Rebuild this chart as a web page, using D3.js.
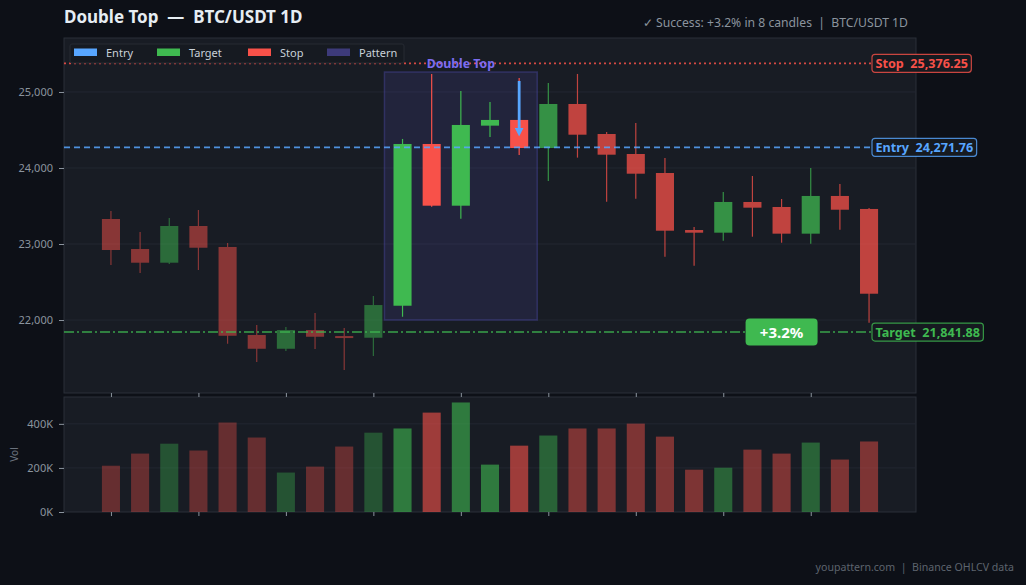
<!DOCTYPE html>
<html><head><meta charset="utf-8">
<script src="https://cdn.jsdelivr.net/npm/d3@7"></script>
<style>
html,body{margin:0;padding:0;background:#0d1017;}
svg{display:block;font-family:"Noto Sans","Open Sans",sans-serif;}
</style></head>
<body><svg id="c" width="1026" height="585"></svg>
<script>
// ---- data ----
const candleIdx = d3.range(27);
const opens  = [23329,22934,22754,23237,22961,21803,21622,21868,21789,21767,22188,24316,23504,24557,24632,24263,24842,24447,24184,23934,23184,23149,23553,23487,23136,23632,23461];
const highs  = [23434,23158,23342,23447,23013,21934,21908,22092,21895,22316,24382,25237,25013,24868,25184,25118,25237,24474,24592,24132,23224,23684,23895,23592,24000,23789,23474];
const lows   = [22724,22618,22737,22658,21688,21447,21592,21618,21342,21526,22043,23491,23333,24408,24171,23829,24136,23557,23596,22833,22714,23043,23096,23017,23004,23188,21964];
const closes = [22921,22754,23237,22951,21793,21622,21868,21780,21767,22197,24316,23504,24566,24632,24263,24842,24438,24175,23925,23175,23149,23553,23478,23136,23632,23451,22346];
const volumes= [210000,265000,310000,279000,406000,338000,179000,206000,297000,360000,379000,451000,497000,215000,301000,347000,379000,379000,401000,342000,192000,201000,283000,265000,315000,238000,320000];
const priceTicks = [22000,23000,24000,25000];
const volTicks = [0,200000,400000];
const xTickIdx = [0,3,6,9,12,15,18,21,24];
const patternStart = 10, patternEnd = 14, arrowIdx = 14;
const arrowFrom = 25145, arrowTo = 24460;
const badgeIdx = 23;
const levels = [
  {name:"Stop",   value:25376.25, color:"#f85149", dash:"2,3"},
  {name:"Entry",  value:24271.76, color:"#58a6ff", dash:"6,4"},
  {name:"Target", value:21841.88, color:"#3fb950", dash:"10,3,2,3"}
];
const legendItems = [
  {name:"Entry", color:"#58a6ff"},
  {name:"Target", color:"#3fb950"},
  {name:"Stop", color:"#f85149"},
  {name:"Pattern", color:"#3d3a7a"}
];

// ---- layout ----
const svg = d3.select("#c");
const W = 1026, H = 585;
const L = 64, R = 916, pT = 38, pB = 393, vT = 397, vB = 512;
const UP = "#3fb950", DN = "#f85149";

svg.append("rect").attr("width",W).attr("height",H).attr("fill","#0d1017");

const x = d3.scaleLinear().domain([-1.61, 27.61]).range([L, R]);
const step = x(1) - x(0);
const cw = step * 0.62;
const y = d3.scaleLinear().domain([21040, 25710]).range([pB, pT]);
const yv = d3.scaleLinear().domain([0, d3.max(volumes) * 1.05]).range([vB, vT]);

// panels
svg.append("rect").attr("x",L).attr("y",pT).attr("width",R-L).attr("height",pB-pT)
  .attr("fill","#181c24").attr("stroke","#2a2f38").attr("stroke-width",1);
svg.append("rect").attr("x",L).attr("y",vT).attr("width",R-L).attr("height",vB-vT)
  .attr("fill","#181c24").attr("stroke","#2a2f38").attr("stroke-width",1);

// grids
svg.append("g").selectAll("line").data(priceTicks).join("line")
  .attr("x1",L).attr("x2",R).attr("y1",d=>y(d)).attr("y2",d=>y(d))
  .attr("stroke","#222731").attr("stroke-width",1);
svg.append("g").selectAll("line").data(volTicks.filter(d=>d>0)).join("line")
  .attr("x1",L).attr("x2",R).attr("y1",d=>yv(d)).attr("y2",d=>yv(d))
  .attr("stroke","#222731").attr("stroke-width",1);

// axes
function styleAxis(g){
  g.select(".domain").remove();
  g.selectAll(".tick line").attr("stroke","#8b949e");
  g.selectAll(".tick text").attr("fill","#8b949e").style("font-size","11px")
   .style("font-family","'Noto Sans','Open Sans',sans-serif");
}
svg.append("g").attr("transform",`translate(${L},0)`)
  .call(d3.axisLeft(y).tickValues(priceTicks).tickFormat(d3.format(",")).tickSize(5).tickPadding(6))
  .call(styleAxis);
svg.append("g").attr("transform",`translate(${L},0)`)
  .call(d3.axisLeft(yv).tickValues(volTicks).tickFormat(d=>(d/1000)+"K").tickSize(5).tickPadding(6))
  .call(styleAxis);
svg.append("g").attr("transform",`translate(0,${pB})`)
  .call(d3.axisBottom(x).tickValues(xTickIdx).tickFormat("").tickSize(4))
  .call(styleAxis);
svg.append("g").attr("transform",`translate(0,${vB})`)
  .call(d3.axisBottom(x).tickValues(xTickIdx).tickFormat("").tickSize(4))
  .call(styleAxis);
svg.append("text").attr("transform",`translate(18,${(vT+vB)/2}) rotate(-90)`)
  .attr("text-anchor","middle").attr("fill","#6e7681").style("font-size","10px").text("Vol");

// pattern rect
svg.append("rect")
  .attr("x", x(patternStart) - cw).attr("width", x(patternEnd) - x(patternStart) + 2*cw)
  .attr("y", y(25263)).attr("height", y(22000) - y(25263))
  .attr("fill","rgba(74,70,160,0.2)").attr("stroke","rgba(74,70,160,0.45)").attr("stroke-width",1.5);

function phaseOp(i){ return i < patternStart ? 0.5 : (i <= patternEnd ? 1 : 0.75); }
function volOp(i){ return i < patternStart ? 0.35 : (i <= patternEnd ? 0.6 : 0.45); }

// volume bars
svg.append("g").selectAll("rect").data(candleIdx).join("rect")
  .attr("x", i => x(i) - cw/2).attr("width", cw)
  .attr("y", i => yv(volumes[i])).attr("height", i => yv(0) - yv(volumes[i]))
  .attr("fill", i => closes[i] >= opens[i] ? UP : DN).attr("fill-opacity", i => volOp(i));

// candles
const cg = svg.append("g").selectAll("g").data(candleIdx).join("g")
  .attr("opacity", i => phaseOp(i));
cg.append("line")
  .attr("x1", i => x(i)).attr("x2", i => x(i))
  .attr("y1", i => y(highs[i])).attr("y2", i => y(lows[i]))
  .attr("stroke", i => closes[i] >= opens[i] ? UP : DN).attr("stroke-width",1.2);
cg.append("rect")
  .attr("x", i => x(i) - cw/2).attr("width", cw)
  .attr("y", i => y(Math.max(opens[i], closes[i])))
  .attr("height", i => Math.max(2, Math.abs(y(opens[i]) - y(closes[i]))))
  .attr("fill", i => closes[i] >= opens[i] ? UP : DN);

// level lines
levels.forEach(l => {
  svg.append("line").attr("x1",L).attr("x2",872).attr("y1",y(l.value)).attr("y2",y(l.value))
    .attr("stroke",l.color).attr("stroke-opacity",0.85).attr("stroke-width",1.6)
    .attr("stroke-dasharray",l.dash);
});

// pattern label
svg.append("text").attr("x", (x(patternStart)-cw + x(patternEnd)+cw)/2).attr("y", y(25263) - 4)
  .attr("text-anchor","middle").attr("fill","#7b6cf0").style("font-size","12.3px").style("font-weight","bold")
  .text("Double Top");

// arrow
const defs = svg.append("defs");
defs.append("marker").attr("id","ah").attr("viewBox","0 0 10 10").attr("refX",6).attr("refY",5)
  .attr("markerWidth",3.2).attr("markerHeight",3.2).attr("orient","auto")
  .append("path").attr("d","M0,0 L10,5 L0,10 Z").attr("fill","#58a6ff");
svg.append("line").attr("x1",x(arrowIdx)).attr("x2",x(arrowIdx))
  .attr("y1",y(arrowFrom)).attr("y2",y(arrowTo))
  .attr("stroke","#58a6ff").attr("stroke-width",2.8).attr("marker-end","url(#ah)");

// level label boxes
levels.forEach(l => {
  const g = svg.append("g").attr("transform",`translate(872,${y(l.value)})`);
  const t = g.append("text").attr("x",3.5).attr("y",4.6).attr("fill",l.color)
    .style("font-size","12.6px").style("font-weight","bold")
    .attr("xml:space","preserve")
    .text(l.name + "  " + d3.format(",.2f")(l.value));
  const bb = t.node().getBBox();
  g.insert("rect","text").attr("x",0).attr("y",-9).attr("width",bb.width+7).attr("height",18)
    .attr("rx",3).attr("fill","#161a20").attr("stroke",l.color).attr("stroke-opacity",0.8).attr("stroke-width",1.2);
});

// badge
const bg = svg.append("g").attr("transform",`translate(${x(badgeIdx)},${y(levels[2].value)})`);
bg.append("rect").attr("x",-36).attr("y",-13.5).attr("width",72).attr("height",27).attr("rx",4).attr("fill","#3fb950");
bg.append("text").attr("y",5.5).attr("text-anchor","middle").attr("fill","#ffffff")
  .style("font-size","15px").style("font-weight","bold").text("+3.2%");

// legend
const lg = svg.append("g");
lg.append("rect").attr("x",70).attr("y",44).attr("width",334).attr("height",19).attr("rx",2)
  .attr("fill","#161a21").attr("stroke","#262a33");
const lx = [74, 157, 248, 327];
legendItems.forEach((d,i) => {
  lg.append("rect").attr("x",lx[i]).attr("y",48.5).attr("width",23).attr("height",7.5).attr("fill",d.color);
  lg.append("text").attr("x",lx[i]+32).attr("y",57).attr("fill","#c9d1d9").style("font-size","11px").text(d.name);
});

// titles
svg.append("text").attr("x",64).attr("y",23).attr("fill","#e6edf3")
  .style("font-size","17px").style("font-weight","bold").attr("xml:space","preserve")
  .text("Double Top  —  BTC/USDT 1D");
svg.append("text").attr("x",908).attr("y",27).attr("text-anchor","end").attr("fill","#8b949e")
  .style("font-size","12.2px").attr("xml:space","preserve")
  .text("✓ Success: +3.2% in 8 candles  |  BTC/USDT 1D");
svg.append("text").attr("x",1014).attr("y",571).attr("text-anchor","end").attr("fill","#5d646e")
  .style("font-size","10.6px").attr("xml:space","preserve")
  .text("youpattern.com  |  Binance OHLCV data");
</script></body></html>
